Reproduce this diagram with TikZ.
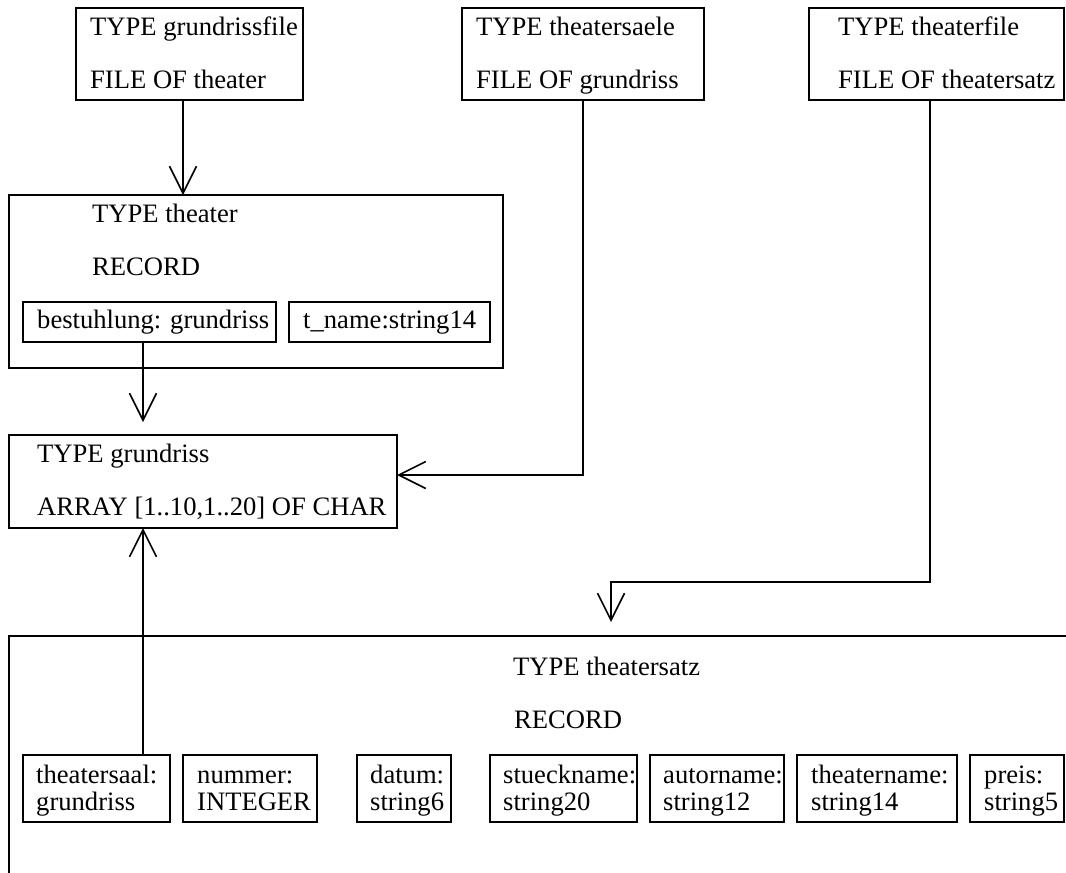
\documentclass[tikz,border=0pt]{standalone}
\usepackage{fontspec}
\setmainfont{Liberation Serif}
\usetikzlibrary{arrows.meta,calc}
\begin{document}
\begin{tikzpicture}[x=1pt,y=-1pt,
  box/.style={draw, line width=1.6pt, inner sep=0pt, outer sep=0pt, anchor=north west},
  txt/.style={inner sep=0pt, anchor=base west, font=\fontsize{26.6}{27}\selectfont},
  field/.style={txt, align=left},
  link/.style={line width=1.6pt},
  arr/.style={link, -{Straight Barb[length=27pt,width=27pt]}}]
\useasboundingbox (0,0) rectangle (1066,873);
\begin{scope}
\clip (0,0) rectangle (1066,873);

% file types
\node[box, minimum width=227pt, minimum height=92pt] (gfile) at (76,8) {};
\node[txt] (gfile1) at (90,35) {TYPE grundrissfile};
\node[txt] (gfile2) at (90,88) {FILE OF theater};

\node[box, minimum width=242pt, minimum height=92pt] (tsaele) at (462,8) {};
\node[txt] (tsaele1) at (476,35) {TYPE theatersaele};
\node[txt] (tsaele2) at (476,88) {FILE OF grundriss};

\node[box, minimum width=255pt, minimum height=92pt] (tfile) at (809,8) {};
\node[txt] (tfile1) at (838,35) {TYPE theaterfile};
\node[txt] (tfile2) at (838,88) {FILE OF theatersatz};

% record theater
\node[box, minimum width=494pt, minimum height=173pt] (theater) at (9,195) {};
\node[txt] (theater1) at (92,222) {TYPE theater};
\node[txt] (theater2) at (92,275) {RECORD};
\node[box, minimum width=253pt, minimum height=40pt] (best) at (23,302) {};
\node[txt] (bestt) at (37,328) {bestuhlung: grundriss};
\node[box, minimum width=201pt, minimum height=40pt] (tname) at (289,302) {};
\node[txt] (tnamet) at (303,328) {t\_name:string14};

% array grundriss
\node[box, minimum width=388pt, minimum height=93pt] (grund) at (9,435) {};
\node[txt] (grund1) at (37,462) {TYPE grundriss};
\node[txt] (grund2) at (37,515) {ARRAY [1..10,1..20] OF CHAR};

% record theatersatz (runs past the page edges)
\node[box, minimum width=1300pt, minimum height=400pt] (satz) at (9,636) {};
\node[txt] (satz1) at (513,675) {TYPE theatersatz};
\node[txt] (satz2) at (514,728) {RECORD};

% fields: the base anchor sits on the second line
\node[box, minimum width=147pt, minimum height=67pt] (saal) at (23,755) {};
\node[field] (saalt) at (36,810) {theatersaal:\\grundriss};
\node[box, minimum width=134pt, minimum height=67pt] (nummer) at (183,755) {};
\node[field] (nummert) at (197,810) {nummer:\\INTEGER};
\node[box, minimum width=94pt, minimum height=67pt] (datum) at (357,755) {};
\node[field] (datumt) at (370,810) {datum:\\string6};
\node[box, minimum width=147pt, minimum height=67pt] (stueck) at (490,755) {};
\node[field] (stueckt) at (503,810) {stueckname:\\string20};
\node[box, minimum width=134pt, minimum height=67pt] (autor) at (650,755) {};
\node[field] (autort) at (663,810) {autorname:\\string12};
\node[box, minimum width=160pt, minimum height=67pt] (thname) at (797,755) {};
\node[field] (thnamet) at (811,810) {theatername:\\string14};
\node[box, minimum width=94pt, minimum height=67pt] (preis) at (970,755) {};
\node[field] (preist) at (984,810) {preis:\\string5};

% connector positions
\coordinate (xa) at (183,0);
\coordinate (xb) at (143,0);
\coordinate (xc) at (583,0);
\coordinate (xd) at (930,0);
\coordinate (ya) at (0,475);
\coordinate (bend) at (611,582);

% connectors
\draw[arr] (gfile.south -| xa) -- (theater.north -| xa);
\draw[arr, shorten >=13pt] (best.south -| xb) -- (grund.north -| xb);
\draw[arr] (saal.north -| xb) -- (grund.south -| xb);
\draw[arr] (tsaele.south -| xc) |- (grund.east |- ya);
\draw[arr, shorten >=14pt] (tfile.south -| xd) |- (bend) -- (satz.north -| bend);
\end{scope}
\end{tikzpicture}
\end{document}
